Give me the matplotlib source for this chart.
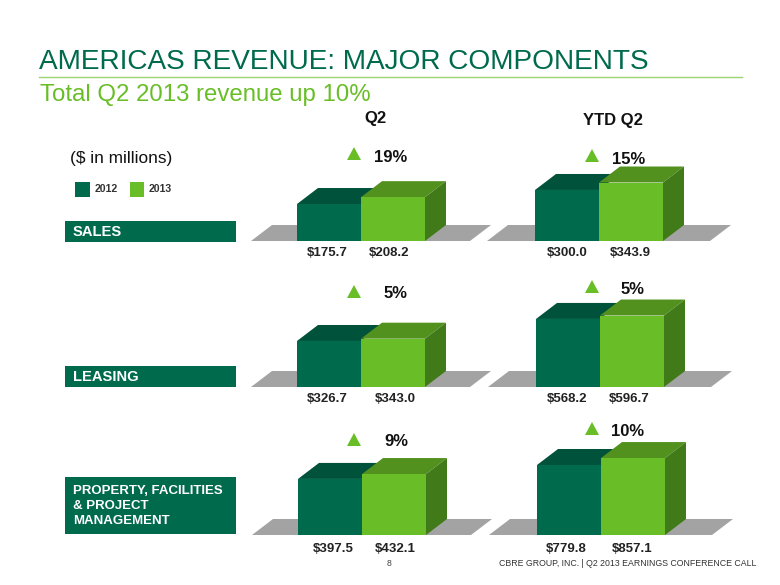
import matplotlib
matplotlib.use('Agg')
import matplotlib.pyplot as plt
from matplotlib.patches import Polygon, Rectangle

plt.rcParams['font.family'] = ['Liberation Sans', 'DejaVu Sans']

# data
years = ['2012', '2013']
sales_q2 = [175.7, 208.2]
leasing_q2 = [326.7, 343.0]
property_q2 = [397.5, 432.1]
sales_ytd = [300.0, 343.9]
leasing_ytd = [568.2, 596.7]
property_ytd = [779.8, 857.1]
growth_labels = ['19%', '5%', '9%', '15%', '5%', '10%']
row_labels = ['SALES', 'LEASING', 'PROPERTY, FACILITIES\n& PROJECT\nMANAGEMENT']

W, H = 780, 585
DARK, DARK_TOP = '#006A4D', '#00533A'
LIGHT, LIGHT_TOP, LIGHT_SIDE = '#69BE28', '#52911E', '#417A18'
FLOOR = '#A3A3A3'
BAR_PX = 64
DEPTH_X, DEPTH_Y = 21, 16
AX_H = 100

fig = plt.figure(figsize=(W / 100, H / 100), dpi=100)

# overlay in pixel coordinates for the slide furniture
page = fig.add_axes([0, 0, 1, 1])
page.set_xlim(0, W)
page.set_ylim(H, 0)
page.axis('off')


def draw_panel(vals, x0, base, ymax, val_x, val_y, tri, pct, pct_xy, floor=(-46, 173)):
    # one small axes per panel, each has its own y scale like the slide
    ax = fig.add_axes([(x0 - 60) / W, (H - base) / H, 300 / W, AX_H / H])
    ax.set_xlim(-60 / BAR_PX, 240 / BAR_PX)
    ax.set_ylim(0, ymax)
    ax.axis('off')
    dx = DEPTH_X / BAR_PX
    dy = DEPTH_Y / AX_H * ymax
    fl, fr = floor[0] / BAR_PX, floor[1] / BAR_PX
    ax.add_patch(Polygon([(fl, 0), (fr, 0), (fr + dx, dy), (fl + dx, dy)],
                         color=FLOOR, lw=0, zorder=1))
    v1, v2 = vals
    ax.add_patch(Polygon([(0, v1), (1, v1), (1 + dx, v1 + dy), (dx, v1 + dy)],
                         color=DARK_TOP, lw=0, zorder=2))
    ax.bar([0], [v1], width=1, align='edge', color=DARK, lw=0, zorder=3)
    ax.add_patch(Polygon([(1, v2), (2, v2), (2 + dx, v2 + dy), (1 + dx, v2 + dy)],
                         color=LIGHT_TOP, lw=0, zorder=4))
    ax.add_patch(Polygon([(2, 0), (2 + dx, dy), (2 + dx, v2 + dy), (2, v2)],
                         color=LIGHT_SIDE, lw=0, zorder=4))
    ax.bar([1], [v2], width=1, align='edge', color=LIGHT, lw=0, zorder=5)

    for x, v in zip(val_x, vals):
        page.text(x, val_y, f'${v:.1f}', fontsize=9.5, fontweight='bold',
                  color='#222222', ha='center', va='center')
    page.add_patch(Polygon([(tri[0] - 7, tri[1] + 6), (tri[0] + 7, tri[1] + 6), (tri[0], tri[1] - 7)],
                           color=LIGHT, lw=0))
    page.text(pct_xy[0], pct_xy[1], pct, fontsize=12, fontweight='bold',
              color='#111111', ha='center', va='center')


YTD_FLOOR = (-48, 175)
draw_panel(sales_q2, 297, 241, 475, (327, 389), 253.5, (354, 154), growth_labels[0], (391, 157))
draw_panel(leasing_q2, 297, 387, 710, (327, 395), 399.5, (354, 292), growth_labels[1], (396, 294))
draw_panel(property_q2, 298, 535, 709, (333, 395), 548.5, (354, 440), growth_labels[2], (396, 442))
draw_panel(sales_ytd, 535, 241, 588, (567, 630), 253.5, (592, 156), growth_labels[3], (629, 159), YTD_FLOOR)
draw_panel(leasing_ytd, 536, 387, 835, (567, 629), 398.5, (592, 287), growth_labels[4], (633, 289), YTD_FLOOR)
draw_panel(property_ytd, 537, 535, 1114, (566, 632), 548.5, (592, 429), growth_labels[5], (628, 431), YTD_FLOOR)

# title block
page.text(39, 62, 'AMERICAS REVENUE: MAJOR COMPONENTS', fontsize=20.2, color='#006A4D', va='center', ha='left')
page.plot([39, 742], [77, 77], color='#9AD56F', lw=1)
page.text(40, 95, 'Total Q2 2013 revenue up 10%', fontsize=17.3, color=LIGHT, va='center', ha='left')

page.text(375, 118, 'Q2', fontsize=12, fontweight='bold', color='#111111', ha='center', va='center')
page.text(613, 120, 'YTD Q2', fontsize=12, fontweight='bold', color='#111111', ha='center', va='center')
page.text(70, 159, '($ in millions)', fontsize=12.4, color='#111111', ha='left', va='center')

# legend
page.add_patch(Rectangle((75, 182), 15, 15, color=DARK, lw=0))
page.text(95, 189.5, years[0], fontsize=7.6, fontweight='bold', color='#333333', va='center')
page.add_patch(Rectangle((130, 182), 14, 15, color=LIGHT, lw=0))
page.text(149, 189.5, years[1], fontsize=7.6, fontweight='bold', color='#333333', va='center')

# row labels
page.add_patch(Rectangle((65, 221), 171, 21, color=DARK, lw=0))
page.text(73, 232, row_labels[0], fontsize=10.6, fontweight='bold', color='white', va='center')
page.add_patch(Rectangle((65, 366), 171, 21, color=DARK, lw=0))
page.text(73, 377, row_labels[1], fontsize=10.6, fontweight='bold', color='white', va='center')
page.add_patch(Rectangle((65, 477), 171, 57, color=DARK, lw=0))
page.text(73, 506, row_labels[2], fontsize=9.5, fontweight='bold', color='white', va='center', linespacing=1.38)

# footer
page.text(389, 564, '8', fontsize=6.2, color='#444444', ha='center', va='center')
page.text(499, 564, 'CBRE GROUP, INC. | Q2 2013 EARNINGS CONFERENCE CALL', fontsize=6.32, color='#333333', va='center')

fig.savefig('out.png', dpi=100)
